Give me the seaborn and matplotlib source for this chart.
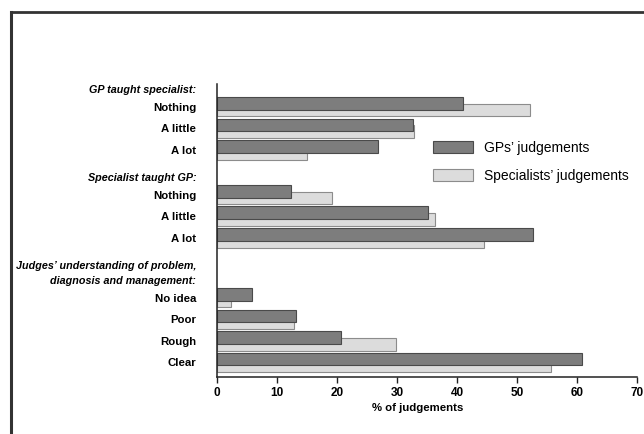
import matplotlib
matplotlib.use("Agg")
import matplotlib.pyplot as plt
from matplotlib.patches import Patch
from matplotlib.lines import Line2D
import pandas as pd
import seaborn as sns

# groups of questions, each with a (possibly two-line) heading
headers = ["GP taught specialist:",
           "Specialist taught GP:",
           "Judges\u2019 understanding of problem,\ndiagnosis and management:"]
items = [["Nothing", "A little", "A lot"],
         ["Nothing", "A little", "A lot"],
         ["No idea", "Poor", "Rough", "Clear"]]

# % of judgements
gp_vals = [41.0, 32.6, 26.9, 12.3, 35.2, 52.7, 5.8, 13.1, 20.6, 60.8]
spec_vals = [52.2, 32.9, 15.0, 19.1, 36.4, 44.5, 2.3, 12.8, 29.8, 55.7]

series_names = ["GPs\u2019 judgements", "Specialists\u2019 judgements"]
xticks = [0, 10, 20, 30, 40, 50, 60, 70]

# row layout (one unit = one item row)
head_pos, item_pos = [], []
h = 0.23
for hd, its in zip(headers, items):
    extra = 0.35 * hd.count("\n")
    head_pos.append(h + extra - 0.25 * extra)
    start = h + 2 * extra + 0.82
    for i in range(len(its)):
        item_pos.append(start + i)
    h = item_pos[-1] + 1.25

off = 0.155
df = pd.DataFrame({
    "gp": gp_vals,
    "spec": spec_vals,
    "y_gp": [p - off for p in item_pos],
    "y_spec": [p + off for p in item_pos],
})

dark, dark_edge = "#7d7d7d", "#4a4a4a"
light, light_edge = "#dcdcdc", "#8c8c8c"

plt.rcParams["font.family"] = ["Liberation Sans", "DejaVu Sans"]

fig = plt.figure(figsize=(6.44, 4.34), dpi=100)
ax = fig.add_axes([217 / 644, 1 - 377 / 434, 420 / 644, 293 / 434])

sns.barplot(data=df, x="spec", y="y_spec", orient="h", native_scale=True,
            color=light, saturation=1, width=0.59, errorbar=None,
            edgecolor=light_edge, linewidth=0.8, ax=ax)
sns.barplot(data=df, x="gp", y="y_gp", orient="h", native_scale=True,
            color=dark, saturation=1, width=0.59, errorbar=None,
            edgecolor=dark_edge, linewidth=0.8, ax=ax)

ax.set_xlim(0, 70)
ax.set_ylim(293 / 21.6, 0)
ax.set_xticks(xticks)
ax.set_xticklabels([str(t) for t in xticks], fontsize=8.5, fontweight="bold")

all_pos = []
all_lab = []
is_head = []
k = 0
for hp, hd, its in zip(head_pos, headers, items):
    all_pos.append(hp)
    all_lab.append(hd)
    is_head.append(True)
    for it in its:
        all_pos.append(item_pos[k])
        all_lab.append(it)
        is_head.append(False)
        k += 1
ax.set_yticks(all_pos)
ax.set_yticklabels(all_lab, fontsize=8.2, fontweight="bold")
for lab, hd in zip(ax.get_yticklabels(), is_head):
    if hd:
        lab.set_fontstyle("italic")
        lab.set_fontsize(7.75)
        lab.set_linespacing(1.55)

ax.tick_params(axis="y", length=0, pad=15)
ax.tick_params(axis="x", length=4, width=1, color="#222222", pad=3)
ax.set_xlabel("% of judgements", fontsize=8.2, fontweight="bold", labelpad=4)
ax.xaxis.set_label_coords((418 - 217) / 420, -0.088)
ax.set_ylabel("")
for s in ["top", "right"]:
    ax.spines[s].set_visible(False)
for s in ["left", "bottom"]:
    ax.spines[s].set_linewidth(1.1)
    ax.spines[s].set_color("#222222")

handles = [Patch(facecolor=dark, edgecolor=dark_edge, linewidth=0.8),
           Patch(facecolor=light, edgecolor=light_edge, linewidth=0.8)]
fig.legend(handles, series_names, loc="upper left",
           bbox_to_anchor=(433 / 644, 1 - 141 / 434), frameon=False,
           fontsize=10, handlelength=2.9, handleheight=0.9,
           handletextpad=0.75, labelspacing=1.0, borderpad=0,
           borderaxespad=0)

# frame of the printed figure
fig.add_artist(Line2D([11 / 644, 1], [1 - 12 / 434, 1 - 12 / 434],
                      transform=fig.transFigure, color="#333333", lw=2))
fig.add_artist(Line2D([11 / 644, 11 / 644], [0, 1 - 12 / 434],
                      transform=fig.transFigure, color="#333333", lw=2.2))

fig.savefig("out.png", dpi=100)
